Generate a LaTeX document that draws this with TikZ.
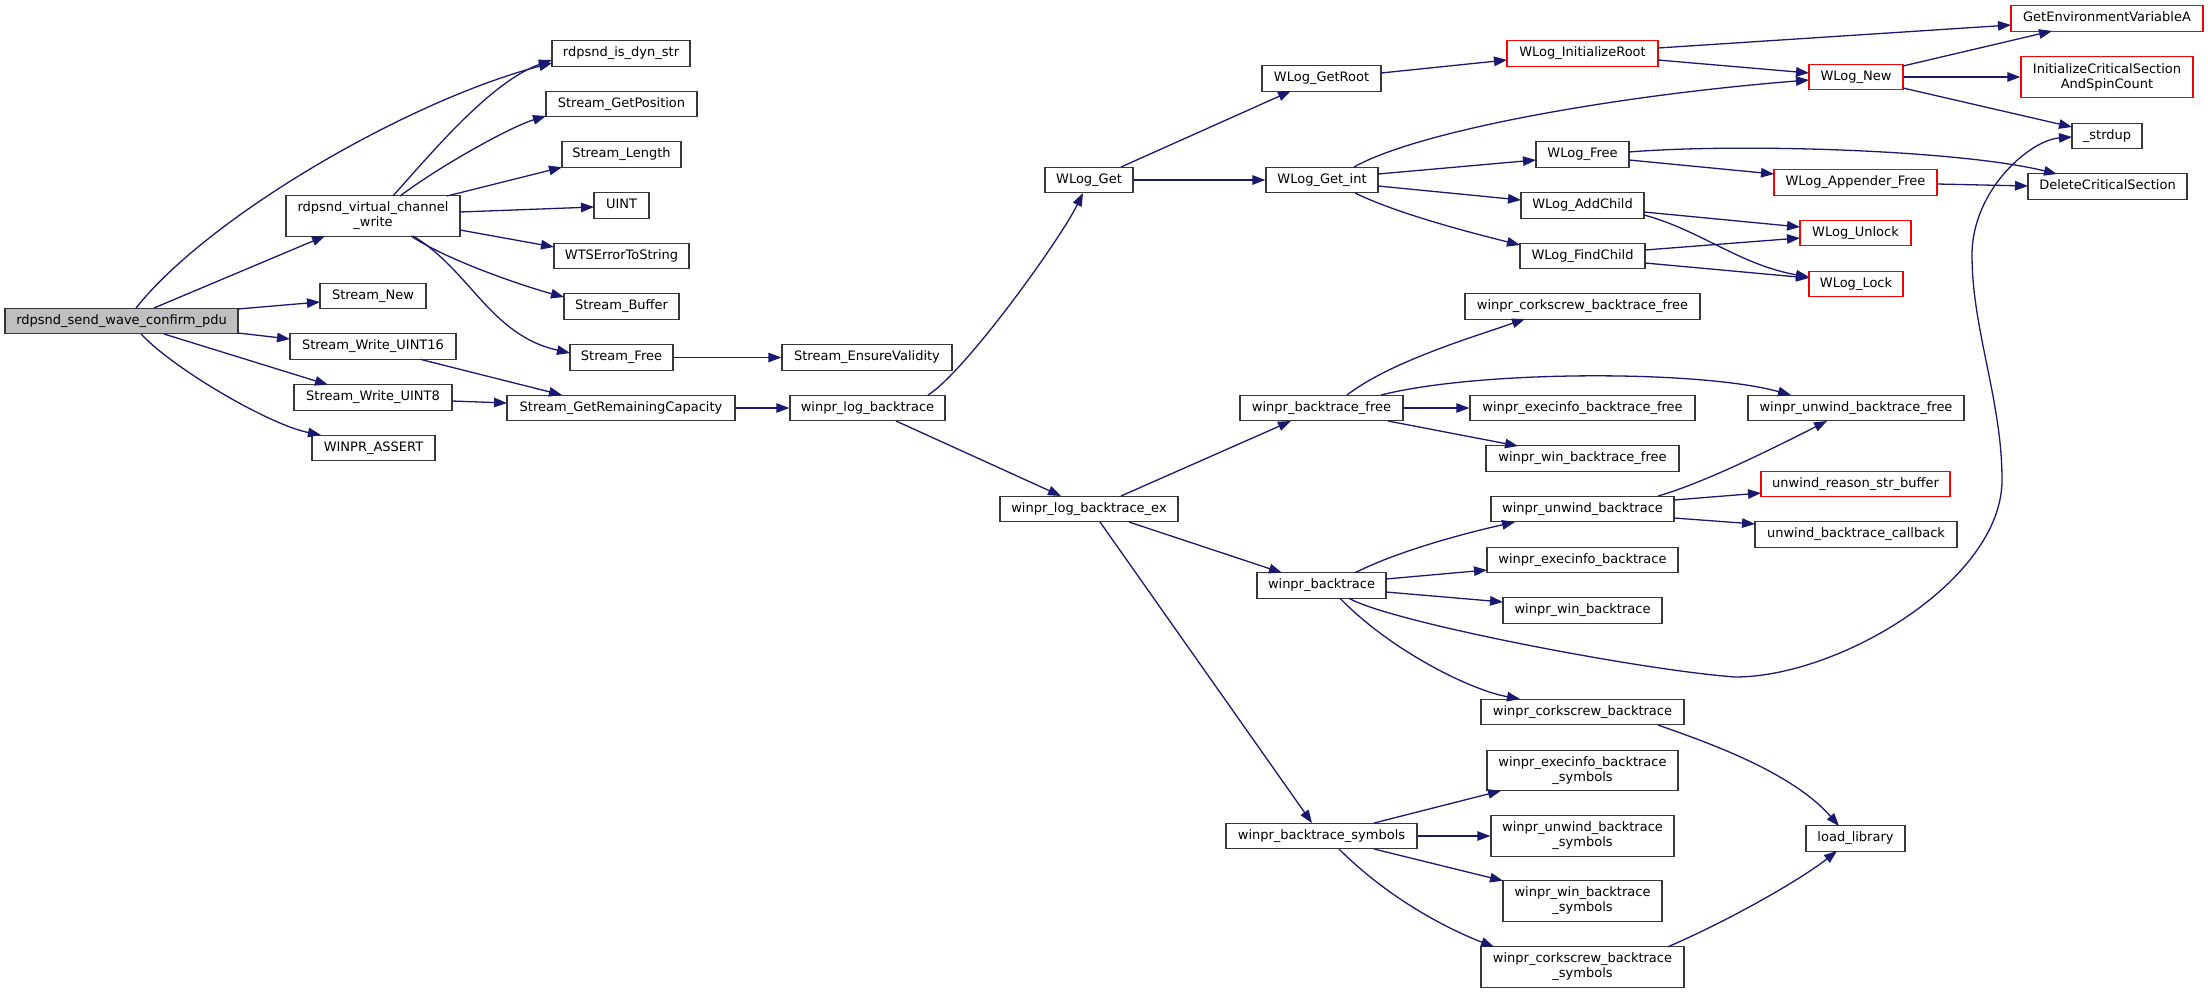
\documentclass[tikz,border=0pt]{standalone}
\usepackage{fontspec}
\setmainfont{DejaVu Sans}
\usetikzlibrary{arrows.meta}
\definecolor{edgeblue}{RGB}{25,25,112}
\definecolor{nodeborder}{RGB}{55,55,55}
\definecolor{rootfill}{RGB}{191,191,191}
\definecolor{redborder}{RGB}{255,0,0}
\begin{document}
\begin{tikzpicture}[x=1pt,y=-1pt,
  box/.style={draw=nodeborder, line width=1.3pt, fill=white, inner sep=0pt, font=\fontsize{13}{15}\selectfont, align=center, text=black},
  fn/.style={box, minimum height=25.5pt, text height=9.5pt, text depth=2.9pt},
  fr/.style={fn, draw=redborder},
  tn/.style={box, minimum height=40.5pt},
  tr/.style={tn, draw=redborder},
  call/.style={draw=edgeblue, line width=1.3pt, -{Triangle[length=13pt,width=9.5pt]}}
]
\useasboundingbox[fill=white] (0,0) rectangle (2208,993);

% column 1-3
\node[fn, fill=rootfill, minimum width=233pt] (A) at (121.5,321) {rdpsnd\_send\_wave\_confirm\_pdu};
\node[tn, minimum width=174pt] (V) at (373,216) {rdpsnd\_virtual\_channel\\\_write};
\node[fn, minimum width=106pt] (SN) at (373,296) {Stream\_New};
\node[fn, minimum width=166pt] (W16) at (373,346.5) {Stream\_Write\_UINT16};
\node[fn, minimum width=158pt] (W8) at (373,397.5) {Stream\_Write\_UINT8};
\node[fn, minimum width=123pt] (WA) at (373.5,448) {WINPR\_ASSERT};
\node[fn, minimum width=138pt] (DYN) at (621,53.5) {rdpsnd\_is\_dyn\_str};
\node[fn, minimum width=151pt] (GP) at (621.5,104) {Stream\_GetPosition};
\node[fn, minimum width=119pt] (SL) at (621.5,154.5) {Stream\_Length};
\node[fn, minimum width=55pt] (UI) at (621.5,205.5) {UINT};
\node[fn, minimum width=135pt] (WTS) at (621.5,256) {WTSErrorToString};
\node[fn, minimum width=115pt] (SB) at (621.5,306.5) {Stream\_Buffer};
\node[fn, minimum width=103pt] (SF) at (621.5,357.5) {Stream\_Free};
\node[fn, minimum width=228pt] (GRC) at (621,408) {Stream\_GetRemainingCapacity};
% column 4-6
\node[fn, minimum width=170pt] (EV) at (867,357.5) {Stream\_EnsureValidity};
\node[fn, minimum width=155pt] (LB) at (867.5,408) {winpr\_log\_backtrace};
\node[fn, minimum width=88pt] (WG) at (1089,180) {WLog\_Get};
\node[fn, minimum width=178pt] (LBE) at (1089,509) {winpr\_log\_backtrace\_ex};
\node[fn, minimum width=119pt] (GR) at (1321.5,78.5) {WLog\_GetRoot};
\node[fn, minimum width=112pt] (GI) at (1322,180) {WLog\_Get\_int};
\node[fn, minimum width=163pt] (BF) at (1321.5,408) {winpr\_backtrace\_free};
\node[fn, minimum width=129pt] (BT) at (1321.5,585.5) {winpr\_backtrace};
\node[fn, minimum width=191pt] (BS) at (1321.5,836) {winpr\_backtrace\_symbols};
% column 7
\node[fr, minimum width=151pt] (IR) at (1582.5,53.5) {WLog\_InitializeRoot};
\node[fn, minimum width=93pt] (WF) at (1582.5,154.5) {WLog\_Free};
\node[fn, minimum width=123pt] (AC) at (1582.5,205.5) {WLog\_AddChild};
\node[fn, minimum width=125pt] (FC) at (1582.5,256) {WLog\_FindChild};
\node[fn, minimum width=235pt] (CF) at (1582.5,306.5) {winpr\_corkscrew\_backtrace\_free};
\node[fn, minimum width=225pt] (EF) at (1582.5,408) {winpr\_execinfo\_backtrace\_free};
\node[fn, minimum width=193pt] (WBF) at (1582.5,458.5) {winpr\_win\_backtrace\_free};
\node[fn, minimum width=183pt] (UB) at (1582.5,509) {winpr\_unwind\_backtrace};
\node[fn, minimum width=191pt] (EB) at (1582.5,560) {winpr\_execinfo\_backtrace};
\node[fn, minimum width=159pt] (WB) at (1582.5,610.5) {winpr\_win\_backtrace};
\node[fn, minimum width=203pt] (CB) at (1582.5,712) {winpr\_corkscrew\_backtrace};
\node[tn, minimum width=191pt] (ES) at (1582.5,770.5) {winpr\_execinfo\_backtrace\\\_symbols};
\node[tn, minimum width=183pt] (US) at (1582.5,836) {winpr\_unwind\_backtrace\\\_symbols};
\node[tn, minimum width=159pt] (WS) at (1582.5,901) {winpr\_win\_backtrace\\\_symbols};
\node[tn, minimum width=203pt] (CS) at (1582.5,967) {winpr\_corkscrew\_backtrace\\\_symbols};
% column 8
\node[fr, minimum width=94pt] (WN) at (1856,77) {WLog\_New};
\node[fr, minimum width=163pt] (AF) at (1855.5,182.5) {WLog\_Appender\_Free};
\node[fr, minimum width=111pt] (UL) at (1855.5,233) {WLog\_Unlock};
\node[fr, minimum width=94pt] (LK) at (1856,284) {WLog\_Lock};
\node[fn, minimum width=216pt] (UF) at (1856,408) {winpr\_unwind\_backtrace\_free};
\node[fr, minimum width=189pt] (UR) at (1855.5,484) {unwind\_reason\_str\_buffer};
\node[fn, minimum width=202pt] (UC) at (1856,534.5) {unwind\_backtrace\_callback};
\node[fn, minimum width=99pt] (LL) at (1855.5,838.5) {load\_library};
% column 9
\node[fr, minimum width=192pt] (GEV) at (2107,18.5) {GetEnvironmentVariableA};
\node[tr, minimum width=172pt] (ICS) at (2107,77) {InitializeCriticalSection\\AndSpinCount};
\node[fn, minimum width=70pt] (SD) at (2107,136) {\_strdup};
\node[fn, minimum width=159pt] (DCS) at (2107.5,186.5) {DeleteCriticalSection};

% edges from root
\draw[call] ([shift={(14.5,-13)}]A.center) .. controls (210,215) and (410,100) .. ([shift={(-69,9.5)}]DYN.center);
\draw[call] ([shift={(32.5,-13)}]A.center) -- ([shift={(-48,20)}]V.center);
\draw[call] ([shift={(116.5,-12)}]A.center) -- ([shift={(-53,6)}]SN.center);
\draw[call] ([shift={(116.5,12)}]A.center) -- ([shift={(-83,-7.5)}]W16.center);
\draw[call] ([shift={(42.5,13)}]A.center) -- ([shift={(-45,-12.75)}]W8.center);
\draw[call] ([shift={(19.5,13)}]A.center) .. controls (175,370) and (270,425) .. ([shift={(-52.5,-13)}]WA.center);
% virtual channel write
\draw[call] ([shift={(20,-20)}]V.center) .. controls (433,151) and (492,81) .. ([shift={(-69,6.5)}]DYN.center);
\draw[call] ([shift={(27,-20)}]V.center) .. controls (440,166) and (510,127) .. ([shift={(-75.5,12)}]GP.center);
\draw[call] ([shift={(74,-20)}]V.center) -- ([shift={(-59.5,12.75)}]SL.center);
\draw[call] ([shift={(87,-4)}]V.center) -- ([shift={(-27.5,1.5)}]UI.center);
\draw[call] ([shift={(87,14)}]V.center) -- ([shift={(-67.5,-9)}]WTS.center);
\draw[call] ([shift={(38,20)}]V.center) .. controls (450,262) and (530,288) .. ([shift={(-57.5,-9.5)}]SB.center);
\draw[call] ([shift={(40,20)}]V.center) .. controls (470,270) and (490,335) .. ([shift={(-51.5,-4.5)}]SF.center);
% stream writers
\draw[call] ([shift={(47,12.75)}]W16.center) -- ([shift={(-59,-13)}]GRC.center);
\draw[call] ([shift={(79,3.5)}]W8.center) -- ([shift={(-114,-5)}]GRC.center);
\draw[call] (SF.east) -- (EV.west);
\draw[call] (GRC.east) -- (LB.west);
% log backtrace
\draw[call] ([shift={(60.5,-13)}]LB.center) .. controls (965,372) and (1060,240) .. ([shift={(-6,13)}]WG.center);
\draw[call] ([shift={(28.5,13)}]LB.center) -- ([shift={(-28,-13)}]LBE.center);
% WLog
\draw[call] ([shift={(32,-13)}]WG.center) -- ([shift={(-30.5,12.5)}]GR.center);
\draw[call] (WG.east) -- (GI.west);
\draw[call] ([shift={(59.5,-5.5)}]GR.center) -- ([shift={(-75.5,6.5)}]IR.center);
\draw[call] ([shift={(75.5,-5.5)}]IR.center) -- ([shift={(-96,6.5)}]GEV.center);
\draw[call] ([shift={(75.5,6.5)}]IR.center) -- ([shift={(-47,-4)}]WN.center);
\draw[call] ([shift={(47,-11)}]WN.center) -- ([shift={(-55,12.5)}]GEV.center);
\draw[call] (WN.east) -- (ICS.west);
\draw[call] ([shift={(47,11)}]WN.center) -- ([shift={(-35,-9)}]SD.center);
\draw[call] ([shift={(32,-13)}]GI.center) .. controls (1420,130) and (1620,95) .. ([shift={(-47,3)}]WN.center);
\draw[call] ([shift={(56,-6)}]GI.center) -- ([shift={(-46.5,5.5)}]WF.center);
\draw[call] ([shift={(56,6)}]GI.center) -- ([shift={(-61.5,-5.5)}]AC.center);
\draw[call] ([shift={(33,13)}]GI.center) .. controls (1400,215) and (1480,235) .. ([shift={(-62.5,-11)}]FC.center);
\draw[call] ([shift={(46.5,-2.5)}]WF.center) .. controls (1740,143) and (1960,150) .. ([shift={(-50.5,-12.5)}]DCS.center);
\draw[call] ([shift={(46.5,5.5)}]WF.center) -- ([shift={(-81.5,-8.5)}]AF.center);
\draw[call] ([shift={(81.5,1.5)}]AF.center) -- ([shift={(-79.5,-0.5)}]DCS.center);
\draw[call] ([shift={(61.5,6.5)}]AC.center) -- ([shift={(-55.5,-6)}]UL.center);
\draw[call] ([shift={(61.5,9.5)}]AC.center) .. controls (1700,230) and (1740,265) .. ([shift={(-47,-7)}]LK.center);
\draw[call] ([shift={(62.5,-6)}]FC.center) -- ([shift={(-55.5,5)}]UL.center);
\draw[call] ([shift={(62.5,7)}]FC.center) -- ([shift={(-47,-6)}]LK.center);
% backtrace ex
\draw[call] ([shift={(32,-13)}]LBE.center) -- ([shift={(-30.5,13)}]BF.center);
\draw[call] ([shift={(40,13)}]LBE.center) -- ([shift={(-39.5,-12.75)}]BT.center);
\draw[call] ([shift={(11,13)}]LBE.center) -- ([shift={(-9.5,-13)}]BS.center);
% backtrace free
\draw[call] ([shift={(25.5,-13)}]BF.center) .. controls (1390,362) and (1470,338) .. ([shift={(-57.5,12.5)}]CF.center);
\draw[call] ([shift={(59.5,-13)}]BF.center) .. controls (1480,370) and (1700,370) .. ([shift={(-65,-13)}]UF.center);
\draw[call] (BF.east) -- (EF.west);
\draw[call] ([shift={(66.5,13)}]BF.center) -- ([shift={(-64.5,-12.5)}]WBF.center);
% backtrace
\draw[call] ([shift={(33.5,-12.75)}]BT.center) .. controls (1400,550) and (1470,532) .. ([shift={(-67.5,13)}]UB.center);
\draw[call] ([shift={(64.5,-6.5)}]BT.center) -- ([shift={(-95.5,10)}]EB.center);
\draw[call] ([shift={(64.5,6.5)}]BT.center) -- ([shift={(-79.5,-8.5)}]WB.center);
\draw[call] ([shift={(27.5,12.75)}]BT.center) .. controls (1390,622) and (1640,670) .. (1735,677)
  .. controls (1840,677) and (2002,580) .. (2002,480)
  .. controls (2002,400) and (1972,330) .. (1972,255)
  .. controls (1972,190) and (2030,140) .. ([shift={(-35,1)}]SD.center);
\draw[call] ([shift={(18.5,12.75)}]BT.center) .. controls (1390,650) and (1470,690) .. ([shift={(-62.5,-13)}]CB.center);
% unwind
\draw[call] ([shift={(75.5,-13)}]UB.center) .. controls (1700,484) and (1760,455) .. ([shift={(-29,13)}]UF.center);
\draw[call] ([shift={(91.5,-9)}]UB.center) -- ([shift={(-94.5,9)}]UR.center);
\draw[call] ([shift={(91.5,9)}]UB.center) -- ([shift={(-101,-10.5)}]UC.center);
\draw[call] ([shift={(75.5,13)}]CB.center) .. controls (1700,740) and (1790,770) .. ([shift={(-16.5,-12.5)}]LL.center);
% symbols
\draw[call] ([shift={(52.5,-13)}]BS.center) -- ([shift={(-81.5,20.25)}]ES.center);
\draw[call] (BS.east) -- (US.west);
\draw[call] ([shift={(52.5,13)}]BS.center) -- ([shift={(-79.5,-20.25)}]WS.center);
\draw[call] ([shift={(17.5,13)}]BS.center) .. controls (1390,900) and (1450,930) .. ([shift={(-88.5,-20.25)}]CS.center);
\draw[call] ([shift={(85.5,-20.25)}]CS.center) .. controls (1730,920) and (1800,880) .. ([shift={(-18.5,12.5)}]LL.center);
\end{tikzpicture}
\end{document}
